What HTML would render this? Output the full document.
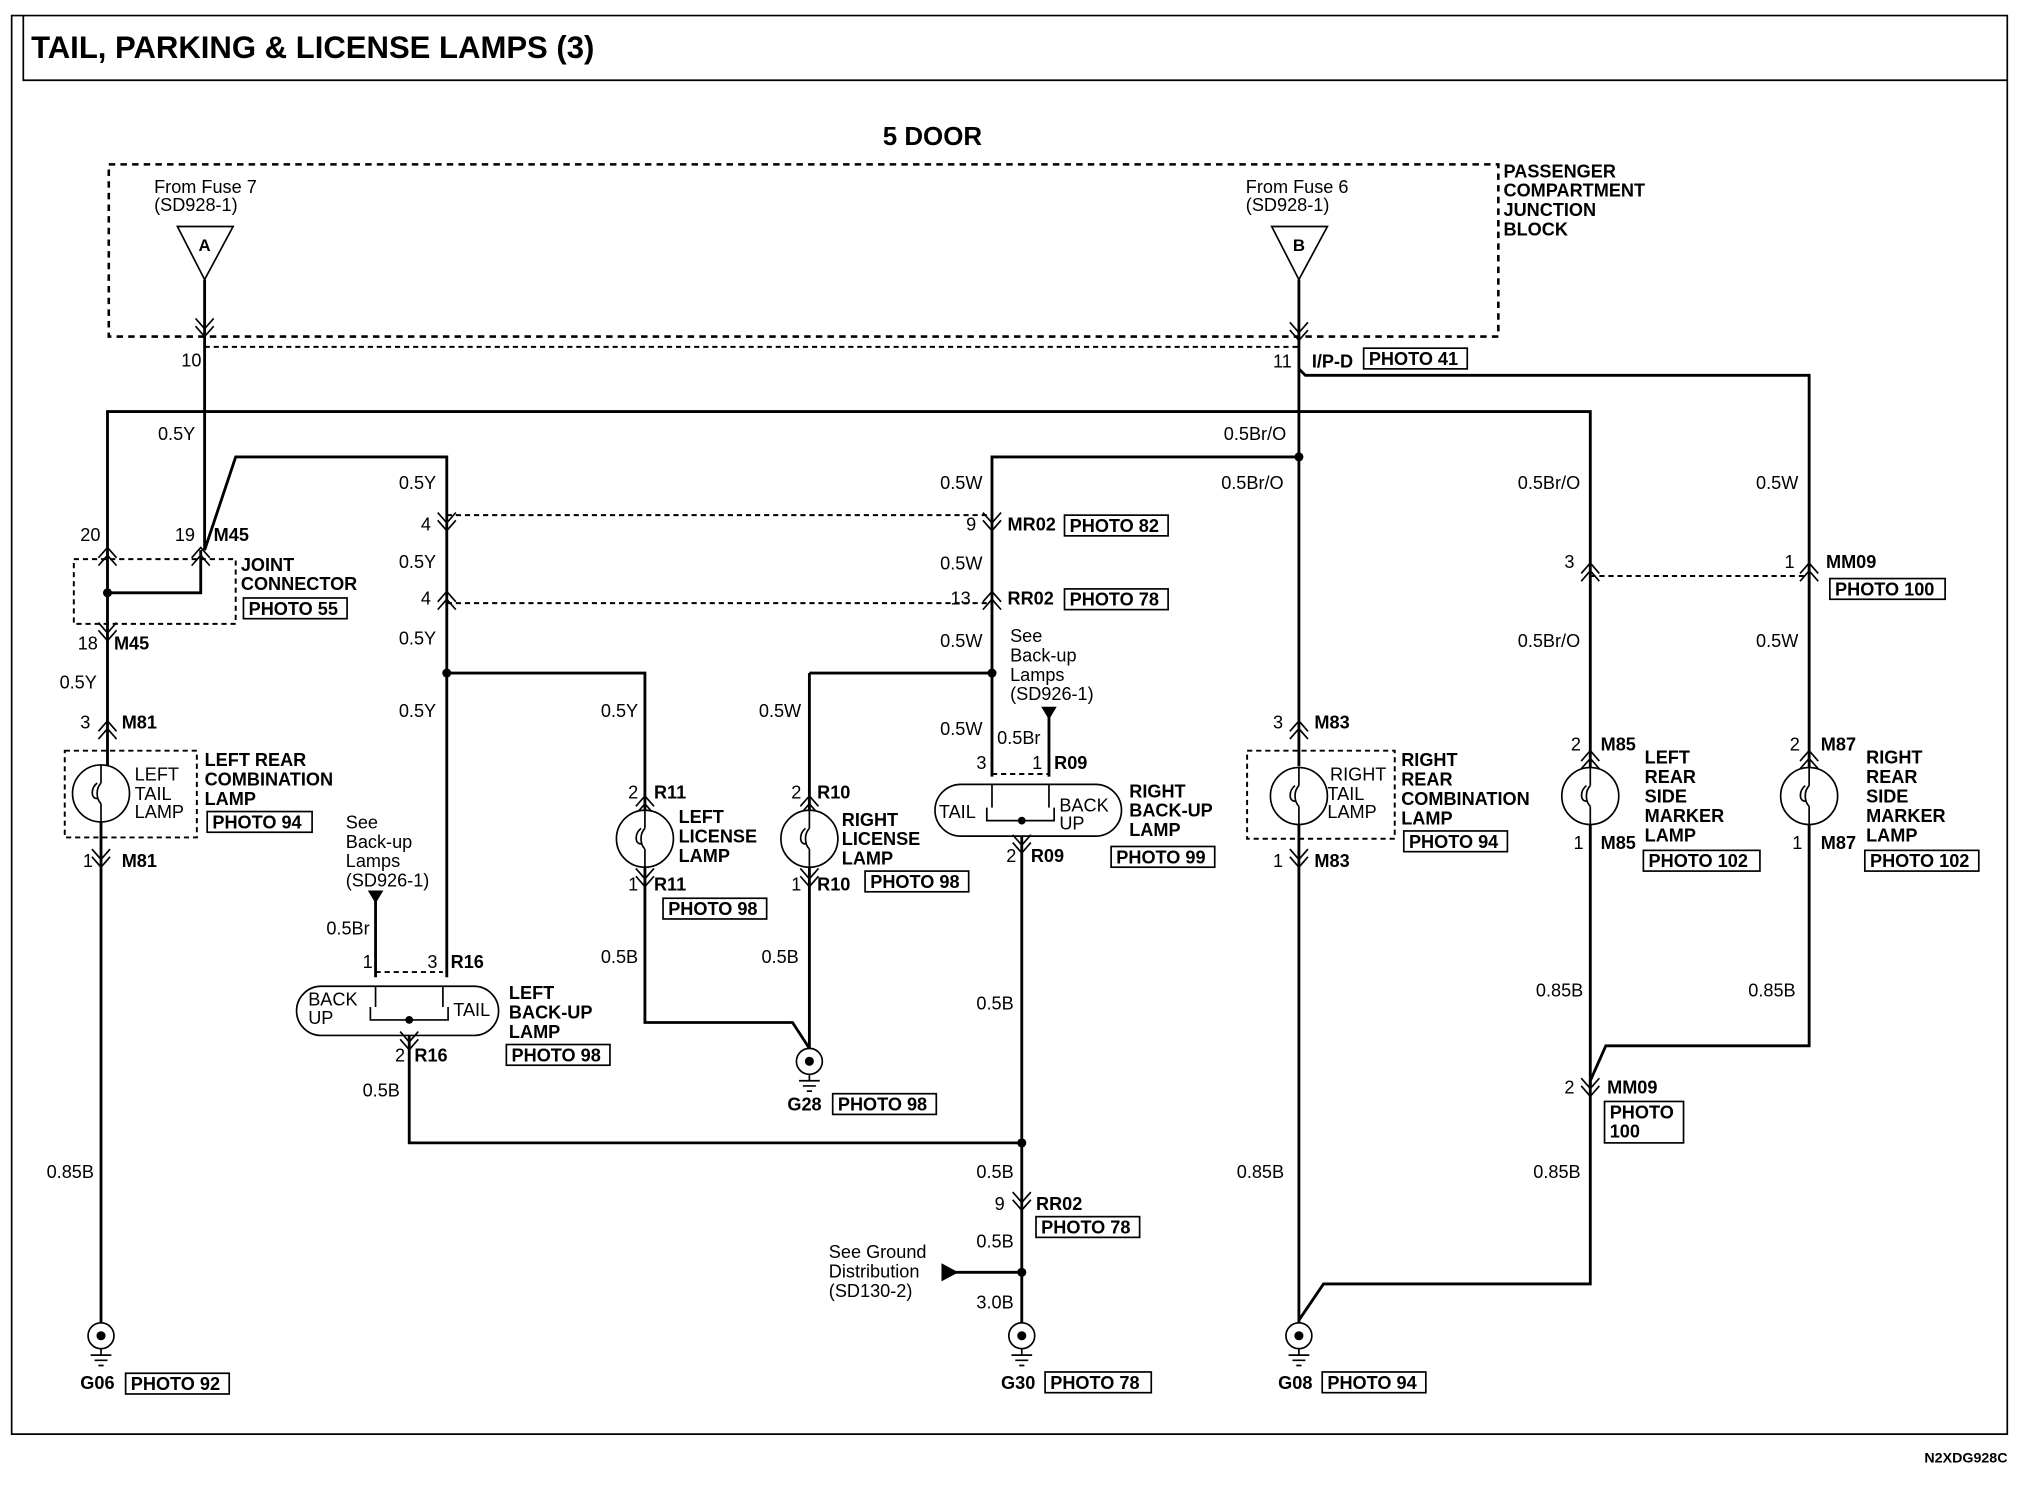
<!DOCTYPE html>
<html><head><meta charset="utf-8"><style>
html,body{margin:0;padding:0;background:#fff;}
svg{display:block;}
text{font-family:"Liberation Sans",sans-serif;font-size:14px;fill:#000;}
.b{font-weight:bold;}
.w{stroke:#000;stroke-width:2.2;fill:none;}
.t{stroke:#000;stroke-width:1.3;fill:none;}
.d{stroke:#000;stroke-width:1.5;fill:none;stroke-dasharray:4,3;}
.dd{stroke:#000;stroke-width:2;fill:none;stroke-dasharray:5,4;}
.bx{stroke:#000;stroke-width:1.3;fill:#fff;}
</style></head><body>
<svg width="2028" height="1504" viewBox="0 0 1566 1162" preserveAspectRatio="none" xmlns="http://www.w3.org/2000/svg">
<defs>
<g id="cd"><path d="M-7,-9 L0,-1 L7,-9 M-7,-3 L0,5 L7,-3" class="t"/></g>
<g id="cu"><path d="M-7,9 L0,1 L7,9 M-7,3 L0,-5 L7,3" class="t"/></g>
<g id="lamp"><circle r="22" class="bx" stroke-width="2"/><path d="M0,-22 V-8 M0,22 V8 M-3,-8 C-8,-4 -8,4 -3,4 M0,-8 C-4,-4 -4,4 0,8" class="t"/></g>
<g id="gnd"><circle r="10" class="bx" stroke-width="2"/><circle r="3.5" fill="#000"/><path d="M0,10 V15 M-8,15 H8 M-5,19 H5 M-2,23 H2" class="t"/></g>
</defs>
<path d="M9,12 H1550 V1108 H9 Z" class="t"/>
<path d="M18,12 V62 H1550" class="t"/>
<text x="24" y="45" class="b" style="font-size:24px">TAIL, PARKING &amp; LICENSE LAMPS (3)</text>
<text x="720" y="112" class="b" text-anchor="middle" style="font-size:20px">5 DOOR</text>
<rect x="84" y="127" width="1073" height="133" class="dd"/>
<text x="1161" y="137" class="b">PASSENGER</text><text x="1161" y="152" class="b">COMPARTMENT</text><text x="1161" y="167" class="b">JUNCTION</text><text x="1161" y="182" class="b">BLOCK</text>
<text x="119" y="149">From Fuse 7</text><text x="119" y="163">(SD928-1)</text>
<path d="M137,175 H180 L158,216 Z" class="bx" stroke-width="2"/><text x="158" y="194" class="b" text-anchor="middle" style="font-size:13px">A</text>
<text x="962" y="149">From Fuse 6</text><text x="962" y="163">(SD928-1)</text>
<path d="M982,175 H1025 L1003,216 Z" class="bx" stroke-width="2"/><text x="1003" y="194" class="b" text-anchor="middle" style="font-size:13px">B</text>
<path d="M158,268 H1003" class="d"/>
<text x="140" y="283">10</text><text x="983" y="284">11</text><text x="1013" y="284" class="b">I/P-D</text>
<rect x="1053" y="269" width="80" height="16" class="bx"/><text x="1057" y="282" class="b">PHOTO 41</text>
<path class="w" d="M158,216 V425 L182,353 H345 V755"/>
<path class="w" d="M83,425 V318 H1228 V605"/>
<path class="w" d="M83,425 V458 H155 V425 M83,458 V592 M78,635 V1022"/>
<path class="w" d="M1003,216 V592 M1003,637 V1022"/>
<path class="w" d="M1003,285 L1008,290 H1397 V808 H1240 L1228,835 V992 H1022 L1003,1020"/>
<path class="w" d="M1228,637 V840"/>
<path class="w" d="M1003,353 H766 V600"/>
<path class="w" d="M345,520 H498 V626 M498,670 V790 H612 L625,810"/>
<path class="w" d="M625,520 H766 M625,520 V626 M625,670 V810"/>
<path class="w" d="M810,552 V600 M789,640 V1022"/>
<path class="w" d="M316,800 V883 H789"/>
<path class="w" d="M290,694 V755"/>
<path d="M730,983 H789" class="w"/><path d="M727,976 L740,983 L727,990 Z" fill="#000"/>
<path d="M284,688 H296 L290,698 Z" fill="#000"/><path d="M804,546 H816 L810,556 Z" fill="#000"/>
<circle cx="83" cy="458" r="3.5"/><circle cx="345" cy="520" r="3.5"/><circle cx="766" cy="520" r="3.5"/><circle cx="1003" cy="353" r="3.5"/><circle cx="789" cy="883" r="3.5"/><circle cx="789" cy="983" r="3.5"/>
<path class="d" d="M345,398 H766 M345,466 H766 M1228,445 H1397"/>
<use href="#cd" x="158" y="255"/><use href="#cd" x="1003" y="258"/><use href="#cu" x="83" y="428"/><use href="#cu" x="155" y="428"/>
<use href="#cd" x="83" y="490"/><use href="#cu" x="83" y="562"/><use href="#cd" x="78" y="665"/>
<use href="#cd" x="345" y="405"/><use href="#cu" x="345" y="462"/><use href="#cd" x="766" y="405"/><use href="#cu" x="766" y="462"/>
<use href="#cu" x="1003" y="562"/><use href="#cd" x="1003" y="665"/><use href="#cu" x="1228" y="440"/><use href="#cu" x="1397" y="440"/>
<use href="#cd" x="1228" y="842"/><use href="#cd" x="789" y="930"/>
<use href="#cu" x="498" y="620"/><use href="#cd" x="498" y="680"/><use href="#cu" x="625" y="620"/><use href="#cd" x="625" y="680"/>
<use href="#cu" x="1228" y="585"/><use href="#cu" x="1397" y="585"/>
<rect x="57" y="432" width="125" height="50" class="d"/>
<text x="186" y="441" class="b">JOINT</text><text x="186" y="456" class="b">CONNECTOR</text>
<rect x="188" y="462" width="80" height="16" class="bx"/><text x="192" y="475" class="b">PHOTO 55</text>
<text x="62" y="418">20</text><text x="135" y="418">19</text><text x="165" y="418" class="b">M45</text>
<text x="122" y="340">0.5Y</text><text x="60" y="502">18</text><text x="88" y="502" class="b">M45</text>
<text x="46" y="532">0.5Y</text><text x="62" y="563">3</text><text x="94" y="563" class="b">M81</text>
<rect x="50" y="580" width="102" height="67" class="d"/>
<use href="#lamp" x="78" y="613"/>
<text x="104" y="603">LEFT</text><text x="104" y="618">TAIL</text><text x="104" y="632">LAMP</text>
<text x="158" y="592" class="b">LEFT REAR</text><text x="158" y="607" class="b">COMBINATION</text><text x="158" y="622" class="b">LAMP</text>
<rect x="160" y="627" width="81" height="16" class="bx"/><text x="164" y="640" class="b">PHOTO 94</text>
<text x="64" y="670">1</text><text x="94" y="670" class="b">M81</text>
<text x="36" y="910">0.85B</text>
<use href="#gnd" x="78" y="1032"/><text x="62" y="1073" class="b">G06</text>
<rect x="97" y="1061" width="80" height="16" class="bx"/><text x="101" y="1074" class="b">PHOTO 92</text>
<text x="308" y="378">0.5Y</text><text x="325" y="410">4</text><text x="308" y="439">0.5Y</text><text x="325" y="467">4</text><text x="308" y="498">0.5Y</text><text x="308" y="554">0.5Y</text>
<text x="267" y="640">See</text><text x="267" y="655">Back-up</text><text x="267" y="670">Lamps</text><text x="267" y="685">(SD926-1)</text>
<text x="252" y="722">0.5Br</text><text x="280" y="748">1</text><text x="330" y="748">3</text><text x="348" y="748" class="b">R16</text>
<path d="M290,751 H342" class="d"/>
<rect x="229" y="762" width="156" height="38" rx="19" class="bx" stroke-width="2"/>
<path d="M290,762 V778 M342,762 V778 M286,778 V788 H346 V778" class="t"/><circle cx="316" cy="788" r="3"/>
<text x="238" y="777">BACK</text><text x="238" y="791">UP</text><text x="350" y="785">TAIL</text>
<use href="#cd" x="316" y="806"/>
<text x="393" y="772" class="b">LEFT</text><text x="393" y="787" class="b">BACK-UP</text><text x="393" y="802" class="b">LAMP</text>
<rect x="391" y="807" width="80" height="16" class="bx"/><text x="395" y="820" class="b">PHOTO 98</text>
<text x="305" y="820">2</text><text x="320" y="820" class="b">R16</text><text x="280" y="847">0.5B</text>
<use href="#lamp" x="498" y="648"/><use href="#lamp" x="625" y="648"/>
<text x="464" y="554">0.5Y</text><text x="485" y="617">2</text><text x="505" y="617" class="b">R11</text>
<text x="524" y="636" class="b">LEFT</text><text x="524" y="651" class="b">LICENSE</text><text x="524" y="666" class="b">LAMP</text>
<text x="485" y="688">1</text><text x="505" y="688" class="b">R11</text>
<rect x="512" y="694" width="80" height="16" class="bx"/><text x="516" y="707" class="b">PHOTO 98</text>
<text x="464" y="744">0.5B</text>
<text x="586" y="554">0.5W</text><text x="611" y="617">2</text><text x="631" y="617" class="b">R10</text>
<text x="650" y="638" class="b">RIGHT</text><text x="650" y="653" class="b">LICENSE</text><text x="650" y="668" class="b">LAMP</text>
<text x="611" y="688">1</text><text x="631" y="688" class="b">R10</text>
<rect x="668" y="673" width="80" height="16" class="bx"/><text x="672" y="686" class="b">PHOTO 98</text>
<text x="588" y="744">0.5B</text>
<use href="#gnd" x="625" y="820"/><text x="608" y="858" class="b">G28</text>
<rect x="643" y="845" width="80" height="16" class="bx"/><text x="647" y="858" class="b">PHOTO 98</text>
<text x="726" y="378">0.5W</text><text x="746" y="410">9</text><text x="778" y="410" class="b">MR02</text>
<rect x="822" y="398" width="80" height="16" class="bx"/><text x="826" y="411" class="b">PHOTO 82</text>
<text x="726" y="440">0.5W</text><text x="734" y="467">13</text><text x="778" y="467" class="b">RR02</text>
<rect x="822" y="455" width="80" height="16" class="bx"/><text x="826" y="468" class="b">PHOTO 78</text>
<text x="726" y="500">0.5W</text>
<text x="780" y="496">See</text><text x="780" y="511">Back-up</text><text x="780" y="526">Lamps</text><text x="780" y="541">(SD926-1)</text>
<text x="726" y="568">0.5W</text><text x="770" y="575">0.5Br</text>
<text x="754" y="594">3</text><text x="797" y="594">1</text><text x="814" y="594" class="b">R09</text>
<path d="M766,598 H810" class="d"/>
<rect x="722" y="606" width="144" height="40" rx="20" class="bx" stroke-width="2"/>
<path d="M766,606 V624 M810,606 V624 M762,624 V634 H814 V624" class="t"/><circle cx="789" cy="634" r="3"/>
<text x="725" y="632">TAIL</text><text x="818" y="627">BACK</text><text x="818" y="641">UP</text>
<use href="#cd" x="789" y="654"/>
<text x="872" y="616" class="b">RIGHT</text><text x="872" y="631" class="b">BACK-UP</text><text x="872" y="646" class="b">LAMP</text>
<rect x="858" y="654" width="80" height="16" class="bx"/><text x="862" y="667" class="b">PHOTO 99</text>
<text x="777" y="666">2</text><text x="796" y="666" class="b">R09</text>
<text x="754" y="780">0.5B</text><text x="754" y="910">0.5B</text>
<text x="768" y="935">9</text><text x="800" y="935" class="b">RR02</text>
<rect x="800" y="940" width="80" height="16" class="bx"/><text x="804" y="953" class="b">PHOTO 78</text>
<text x="754" y="964">0.5B</text>
<text x="640" y="972">See Ground</text><text x="640" y="987">Distribution</text><text x="640" y="1002">(SD130-2)</text>
<text x="754" y="1011">3.0B</text>
<use href="#gnd" x="789" y="1032"/><text x="773" y="1073" class="b">G30</text>
<rect x="807" y="1060" width="82" height="16" class="bx"/><text x="811" y="1073" class="b">PHOTO 78</text>
<text x="945" y="340">0.5Br/O</text><text x="943" y="378">0.5Br/O</text>
<text x="983" y="563">3</text><text x="1015" y="563" class="b">M83</text>
<rect x="963" y="580" width="114" height="68" class="d"/>
<use href="#lamp" x="1003" y="615"/>
<text x="1027" y="603">RIGHT</text><text x="1025" y="618">TAIL</text><text x="1025" y="632">LAMP</text>
<text x="1082" y="592" class="b">RIGHT</text><text x="1082" y="607" class="b">REAR</text><text x="1082" y="622" class="b">COMBINATION</text><text x="1082" y="637" class="b">LAMP</text>
<rect x="1084" y="642" width="80" height="16" class="bx"/><text x="1088" y="655" class="b">PHOTO 94</text>
<text x="983" y="670">1</text><text x="1015" y="670" class="b">M83</text>
<text x="955" y="910">0.85B</text>
<use href="#gnd" x="1003" y="1032"/><text x="987" y="1073" class="b">G08</text>
<rect x="1021" y="1060" width="80" height="16" class="bx"/><text x="1025" y="1073" class="b">PHOTO 94</text>
<text x="1172" y="378">0.5Br/O</text><text x="1208" y="439">3</text><text x="1172" y="500">0.5Br/O</text>
<text x="1213" y="580">2</text><text x="1236" y="580" class="b">M85</text>
<use href="#lamp" x="1228" y="615"/>
<text x="1270" y="590" class="b">LEFT</text><text x="1270" y="605" class="b">REAR</text><text x="1270" y="620" class="b">SIDE</text><text x="1270" y="635" class="b">MARKER</text><text x="1270" y="650" class="b">LAMP</text>
<text x="1215" y="656">1</text><text x="1236" y="656" class="b">M85</text>
<rect x="1269" y="657" width="90" height="16" class="bx"/><text x="1273" y="670" class="b">PHOTO 102</text>
<text x="1186" y="770">0.85B</text>
<text x="1208" y="845">2</text><text x="1241" y="845" class="b">MM09</text>
<rect x="1239" y="851" width="61" height="32" class="bx"/><text x="1243" y="864" class="b">PHOTO</text><text x="1243" y="879" class="b">100</text>
<text x="1184" y="910">0.85B</text>
<text x="1356" y="378">0.5W</text><text x="1378" y="439">1</text><text x="1410" y="439" class="b">MM09</text>
<rect x="1413" y="447" width="89" height="16" class="bx"/><text x="1417" y="460" class="b">PHOTO 100</text>
<text x="1356" y="500">0.5W</text>
<text x="1382" y="580">2</text><text x="1406" y="580" class="b">M87</text>
<use href="#lamp" x="1397" y="615"/>
<text x="1441" y="590" class="b">RIGHT</text><text x="1441" y="605" class="b">REAR</text><text x="1441" y="620" class="b">SIDE</text><text x="1441" y="635" class="b">MARKER</text><text x="1441" y="650" class="b">LAMP</text>
<text x="1384" y="656">1</text><text x="1406" y="656" class="b">M87</text>
<rect x="1440" y="657" width="88" height="16" class="bx"/><text x="1444" y="670" class="b">PHOTO 102</text>
<text x="1350" y="770">0.85B</text>
<text x="1486" y="1130" class="b" style="font-size:11px">N2XDG928C</text>
</svg>
</body></html>
